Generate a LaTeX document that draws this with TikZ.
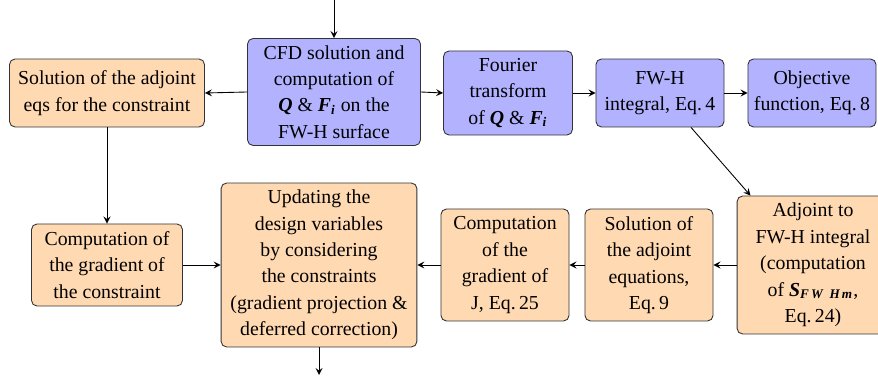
\documentclass[tikz,border=0pt]{standalone}
\usepackage{amsmath}
\usepackage{fontspec}
\setmainfont{Liberation Serif}
\usetikzlibrary{arrows}
\newcommand{\bi}[1]{\textbf{\textit{#1}}}
\begin{document}
\begin{tikzpicture}[x=0.4545pt,y=-0.4545pt,>=stealth,
  box/.style={draw=black!80,rounded corners=2.5pt,align=center,inner sep=1pt,
    font=\fontsize{9}{12}\selectfont},
  bluebox/.style={box,fill=blue!30},
  orangebox/.style={box,fill=orange!30},
  conn/.style={->,black}]
\useasboundingbox (0,0) rectangle (878,383);
\node[bluebox,minimum width=78.6pt,minimum height=48.6pt] (cfd) at (334,92)
  {CFD solution and\\computation of\\$\bi{Q}$ \& $\bi{F}_{\bi{i}}$ on the\\FW-H surface};
\node[orangebox,minimum width=88.6pt,minimum height=30.9pt] (adjc) at (107,93)
  {Solution of the adjoint\\eqs for the constraint};
\node[bluebox,minimum width=58.6pt,minimum height=38.2pt] (four) at (508,93)
  {Fourier\\transform\\of $\bi{Q}$ \& $\bi{F}_{\bi{i}}$};
\node[bluebox,minimum width=58.2pt,minimum height=30.9pt] (fwh) at (660,93)
  {FW-H\\integral, Eq.\,4};
\node[bluebox,minimum width=58.2pt,minimum height=30.9pt] (obj) at (812,93)
  {Objective\\function, Eq.\,8};
\node[orangebox,minimum width=69pt,minimum height=62.7pt] (adj) at (813,265)
  {Adjoint to\\FW-H integral\\(computation\\of $\bi{S}_{\bi{F\,W\ \ H\,m}}$,\\Eq.\,24)};
\node[orangebox,minimum width=58.2pt,minimum height=50.9pt] (sol) at (649,265)
  {Solution of\\the adjoint\\equations,\\Eq.\,9};
\node[orangebox,minimum width=58.2pt,minimum height=50.9pt] (gradj) at (505,265)
  {Computation\\of the\\gradient of\\J, Eq.\,25};
\node[orangebox,minimum width=89pt,minimum height=74.5pt] (upd) at (319,265)
  {Updating the\\design variables\\by considering\\the constraints\\(gradient projection \&\\deferred correction)};
\node[orangebox,minimum width=68.6pt,minimum height=37.3pt] (gradc) at (107,265)
  {Computation of\\the gradient of\\the constraint};
\coordinate (in) at (334,0);
\coordinate (out) at (319,375);
\draw[conn] (in) -- (cfd.north);
\draw[conn] (cfd.west) -- (adjc.east);
\draw[conn] (cfd.east) -- (four.west);
\draw[conn] (four.east) -- (fwh.west);
\draw[conn] (fwh.east) -- (obj.west);
\draw[conn] (fwh.-48.6) -- (adj.132.4);
\draw[conn] (adj.west) -- (sol.east);
\draw[conn] (sol.west) -- (gradj.east);
\draw[conn] (gradj.west) -- (upd.east);
\draw[conn] (gradc.east) -- (upd.west);
\draw[conn] (adjc.south) -- (gradc.north);
\draw[conn] (upd.south) -- (out);
\end{tikzpicture}
\end{document}
